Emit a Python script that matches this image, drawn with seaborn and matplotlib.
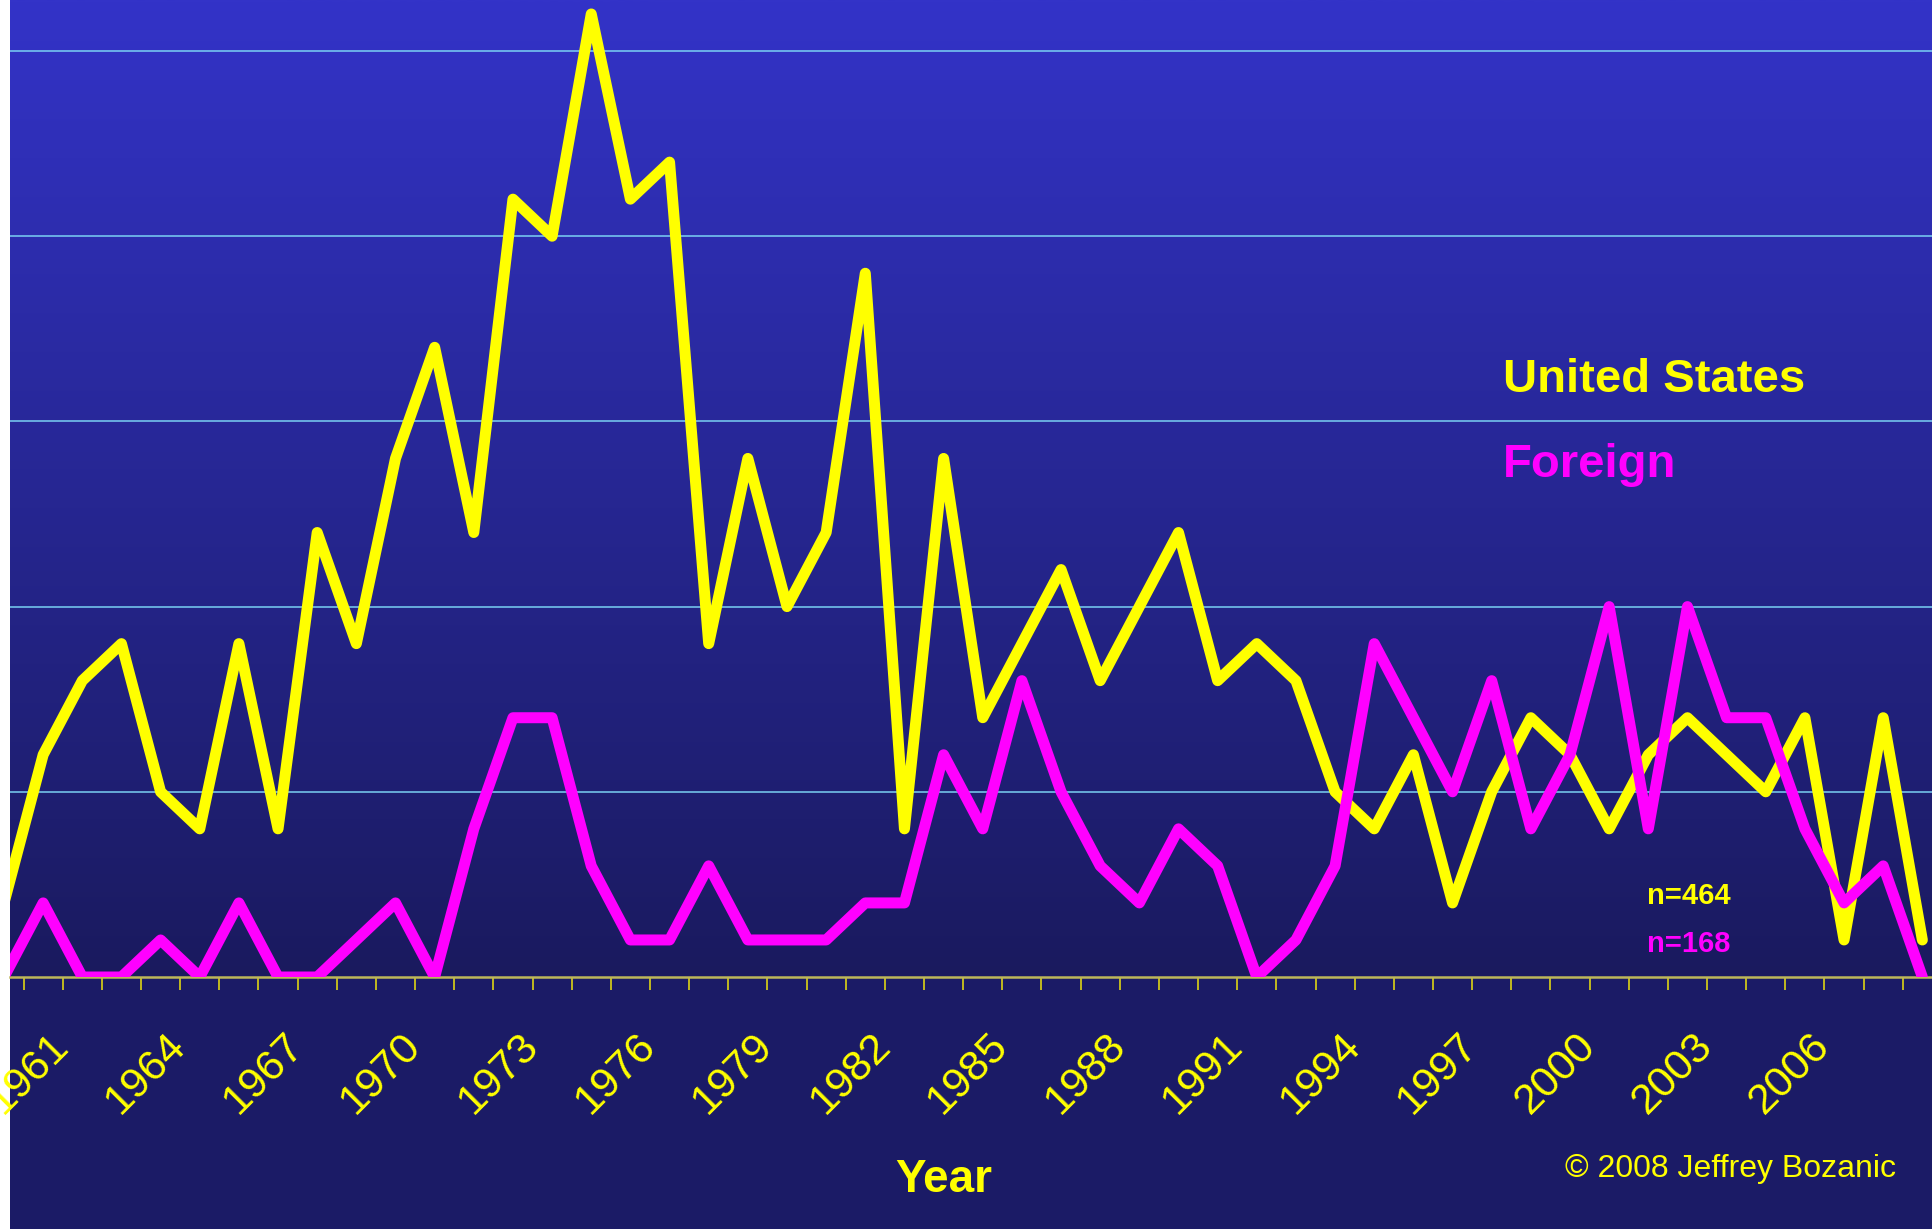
import numpy as np
import pandas as pd
import matplotlib
matplotlib.use("Agg")
import matplotlib.pyplot as plt
import matplotlib.transforms as mtransforms
from matplotlib.patches import Rectangle
import seaborn as sns

# Annual counts, 1959-2008
years = list(range(1959, 2009))
united_states = [2, 6, 8, 9, 5, 4, 9, 4, 12, 9,
                 14, 17, 12, 21, 20, 26, 21, 22, 9, 14,
                 10, 12, 19, 4, 14, 7, 9, 11, 8, 10,
                 12, 8, 9, 8, 5, 4, 6, 2, 5, 7,
                 6, 4, 6, 7, 6, 5, 7, 1, 7, 1]
foreign = [0, 2, 0, 0, 1, 0, 2, 0, 0, 1,
           2, 0, 4, 7, 7, 3, 1, 1, 3, 1,
           1, 1, 2, 2, 6, 4, 8, 5, 3, 2,
           4, 3, 0, 1, 3, 9, 7, 5, 8, 4,
           6, 10, 4, 10, 7, 7, 4, 2, 3, 0]
label_years = list(range(1961, 2007, 3))
grid_values = [5, 10, 15, 20, 25]
us_total = "n=464"
foreign_total = "n=168"

df = pd.DataFrame({"Year": years, "United States": united_states, "Foreign": foreign})

plt.rcParams["font.family"] = ["Liberation Sans", "DejaVu Sans"]

W, H = 1932, 1229
DPI = 100
fig = plt.figure(figsize=(W / DPI, H / DPI), dpi=DPI, facecolor="white")

# slide background (a thin white margin stays on the left)
fig.add_artist(Rectangle((10 / W, 0), 1 - 10 / W, 1, transform=fig.transFigure,
                         facecolor="#1B1B66", edgecolor="none", zorder=-10))

ax_left_px, ax_bottom_px = 10, 977
ax = fig.add_axes([ax_left_px / W, (H - ax_bottom_px) / H, 1 - ax_left_px / W, ax_bottom_px / H])
ax.set_facecolor("none")

# axis scale: one year = 39.15 px, first year sits 4 px from the image edge
px_per_year = 39.15
x0 = years[0] + (ax_left_px - 4) / px_per_year
x1 = x0 + (W - ax_left_px) / px_per_year
px_per_unit = 37.04
y1 = ax_bottom_px / px_per_unit

line_w = 11 * 72 / DPI
sns.lineplot(data=df, x="Year", y="United States", color="#FFFF00", linewidth=line_w,
             ax=ax, solid_capstyle="round", solid_joinstyle="round", zorder=3)
sns.lineplot(data=df, x="Year", y="Foreign", color="#FF00FF", linewidth=line_w,
             ax=ax, solid_capstyle="round", solid_joinstyle="round", zorder=4)

# horizontal gridlines
ax.set_yticks(grid_values)
ax.set_yticklabels([])
ax.tick_params(axis="y", length=0)
ax.grid(axis="y", color="#7CD4F5", linewidth=1.5 * 72 / DPI, zorder=1)
ax.grid(axis="x", visible=False)

for side in ["left", "right", "top"]:
    ax.spines[side].set_visible(False)
ax.spines["bottom"].set_color("#BDB75A")
ax.spines["bottom"].set_linewidth(2.5 * 72 / DPI)
ax.spines["bottom"].set_zorder(2)

# tick marks between years, labels every third year
ax.set_xticks(label_years)
ax.set_xticklabels([str(y) for y in label_years])
ax.set_xticks(np.arange(years[0] + 0.5, years[-1] + 0.6, 1.0), minor=True)
ax.tick_params(axis="x", which="minor", length=13 * 72 / DPI, width=1.6 * 72 / DPI,
               color="#E6DC10", direction="out")
ax.tick_params(axis="x", which="major", length=0, pad=45, labelsize=31, labelcolor="#FFFF00")
offset = mtransforms.ScaledTranslation(-20 / DPI, 0, fig.dpi_scale_trans)
for lbl in ax.get_xticklabels():
    lbl.set_rotation(45)
    lbl.set_ha("right")
    lbl.set_va("center")
    lbl.set_rotation_mode("anchor")
    lbl.set_transform(lbl.get_transform() + offset)

# vertical gradient of the plot area
top = np.array([51, 51, 200]) / 255
bottom = np.array([26, 26, 94]) / 255
t = np.linspace(0, 1, 256)[:, None, None]
grad = top * (1 - t) + bottom * t
ax.imshow(grad, extent=[x0, x1, 0, y1], aspect="auto", origin="upper", zorder=0,
          interpolation="bilinear")

ax.set_xlim(x0, x1)
ax.set_ylim(0, y1)

ax.set_ylabel("")
ax.set_xlabel("Year", fontsize=33, fontweight="bold", color="#FFFF00", va="baseline")
ax.xaxis.set_label_coords((944 - ax_left_px) / (W - ax_left_px), -(1192 - ax_bottom_px) / ax_bottom_px)


def fig_text(x_px, y_px, s, **kw):
    fig.text(x_px / W, (H - y_px) / H, s, va="baseline", ha="left", **kw)


fig_text(1503, 392, "United States", fontsize=34, fontweight="bold", color="#FFFF00")
fig_text(1503, 477, "Foreign", fontsize=34, fontweight="bold", color="#FF00FF")
fig_text(1647, 904, us_total, fontsize=21, fontweight="bold", color="#FFFF00")
fig_text(1647, 952, foreign_total, fontsize=21, fontweight="bold", color="#FF00FF")
fig_text(1565, 1177, "\u00a9 2008 Jeffrey Bozanic", fontsize=23, color="#FFFF00")

fig.savefig("out.png", dpi=DPI, facecolor=fig.get_facecolor())
